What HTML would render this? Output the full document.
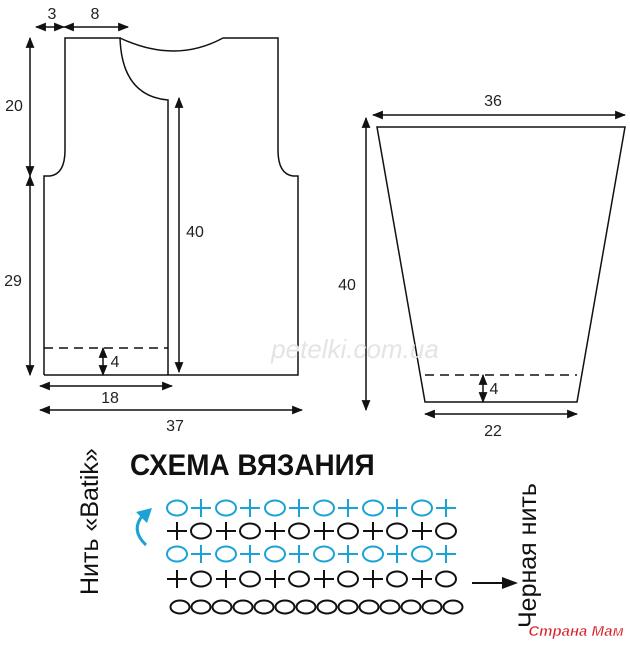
<!DOCTYPE html>
<html><head><meta charset="utf-8"><style>
html,body{margin:0;padding:0;background:#fff;}
svg{display:block;}
text{font-family:"Liberation Sans",sans-serif;}
</style></head><body>
<svg width="630" height="645" viewBox="0 0 630 645" xmlns="http://www.w3.org/2000/svg">
<defs>
<marker id="ah" viewBox="0 0 10 10" refX="9" refY="5" markerWidth="11" markerHeight="11" markerUnits="userSpaceOnUse" orient="auto-start-reverse"><path d="M0,1 L10,5 L0,9 z" fill="#111"/></marker>
</defs>
<g fill="none" stroke="#111" stroke-width="1.5">
<path d="M44,375 L44,176 L50,176 Q65,174 65,150 L65,38 L120,38 Q122,96 168,100 L168,375"/>
<path d="M120,38 Q175,64 223,38 L278,38 L278,150 Q278,174 293,176 L298,176 L298,375 L44,375"/>
<line x1="44" y1="348" x2="168" y2="348" stroke-dasharray="9,6"/>
<path d="M377,127 L625,127 L577,402 L425,402 Z"/>
<line x1="425" y1="375" x2="577" y2="375" stroke-dasharray="9,6"/>
</g>
<g stroke="#111" stroke-width="1.5" marker-start="url(#ah)" marker-end="url(#ah)">
<line x1="36" y1="27" x2="64" y2="27"/>
<line x1="64" y1="27" x2="128" y2="27"/>
<line x1="30" y1="38" x2="30" y2="176"/>
<line x1="30" y1="176" x2="30" y2="375"/>
<line x1="103" y1="348" x2="103" y2="375"/>
<line x1="40" y1="386" x2="172" y2="386"/>
<line x1="40" y1="410" x2="302" y2="410"/>
<line x1="373" y1="115" x2="625" y2="115"/>
<line x1="366" y1="118" x2="366" y2="410"/>
<line x1="483" y1="375" x2="483" y2="402"/>
<line x1="425" y1="414" x2="577" y2="414"/>
<line x1="179" y1="372" x2="179" y2="98"/>
</g>
<g font-size="16" fill="#222" text-anchor="middle">
<text x="52" y="19">3</text><text x="95" y="19">8</text>
<text x="14" y="111">20</text><text x="13" y="286">29</text>
<text x="195" y="237">40</text><text x="115" y="367">4</text>
<text x="110" y="403">18</text><text x="175" y="431">37</text>
<text x="493" y="106">36</text><text x="347" y="290">40</text>
<text x="494" y="394">4</text><text x="493" y="436">22</text>
</g>
<text x="355" y="358" font-size="26" font-style="italic" fill="#e4e4e4" text-anchor="middle" font-family="Liberation Serif,serif">petelki.com.ua</text>
<text x="130" y="475" font-size="30" font-weight="bold" fill="#111" transform="translate(130,0) scale(0.93,1) translate(-130,0)">СХЕМА ВЯЗАНИЯ</text>
<text transform="translate(98,595) rotate(-90)" font-size="25" fill="#111">Нить «Batik»</text>
<text transform="translate(536,628) rotate(-90)" font-size="25" fill="#111">Черная нить</text>
<path d="M146,545 Q130,530 143,515" fill="none" stroke="#1ba3d6" stroke-width="3"/>
<path d="M152,508 L136,512 L147,523 z" fill="#1ba3d6"/>
<line x1="472" y1="583" x2="505" y2="583" stroke="#111" stroke-width="2"/>
<path d="M502,577 L518,583 L502,589 z" fill="#111"/>
<g fill="none" stroke-width="2">
<g stroke="#1ba3d6">
<ellipse cx="177" cy="508" rx="10" ry="7.5"/><ellipse cx="226" cy="508" rx="10" ry="7.5"/><ellipse cx="275" cy="508" rx="10" ry="7.5"/><ellipse cx="324" cy="508" rx="10" ry="7.5"/><ellipse cx="373" cy="508" rx="10" ry="7.5"/><ellipse cx="422" cy="508" rx="10" ry="7.5"/>
<path d="M191,508h20M201,499v18M240,508h20M250,499v18M289,508h20M299,499v18M338,508h20M348,499v18M387,508h20M397,499v18M436,508h20M446,499v18"/>
<ellipse cx="177" cy="554" rx="10" ry="7.5"/><ellipse cx="226" cy="554" rx="10" ry="7.5"/><ellipse cx="275" cy="554" rx="10" ry="7.5"/><ellipse cx="324" cy="554" rx="10" ry="7.5"/><ellipse cx="373" cy="554" rx="10" ry="7.5"/><ellipse cx="422" cy="554" rx="10" ry="7.5"/>
<path d="M191,554h20M201,545v18M240,554h20M250,545v18M289,554h20M299,545v18M338,554h20M348,545v18M387,554h20M397,545v18M436,554h20M446,545v18"/>
</g>
<g stroke="#111">
<path d="M167,531h20M177,522v18M216,531h20M226,522v18M265,531h20M275,522v18M314,531h20M324,522v18M363,531h20M373,522v18M412,531h20M422,522v18"/>
<ellipse cx="201" cy="531" rx="10" ry="7.5"/><ellipse cx="250" cy="531" rx="10" ry="7.5"/><ellipse cx="299" cy="531" rx="10" ry="7.5"/><ellipse cx="348" cy="531" rx="10" ry="7.5"/><ellipse cx="397" cy="531" rx="10" ry="7.5"/><ellipse cx="446" cy="531" rx="10" ry="7.5"/>
<path d="M167,579h20M177,570v18M216,579h20M226,570v18M265,579h20M275,570v18M314,579h20M324,570v18M363,579h20M373,570v18M412,579h20M422,570v18"/>
<ellipse cx="201" cy="579" rx="10" ry="7.5"/><ellipse cx="250" cy="579" rx="10" ry="7.5"/><ellipse cx="299" cy="579" rx="10" ry="7.5"/><ellipse cx="348" cy="579" rx="10" ry="7.5"/><ellipse cx="397" cy="579" rx="10" ry="7.5"/><ellipse cx="446" cy="579" rx="10" ry="7.5"/>
<ellipse cx="180" cy="607" rx="9.5" ry="6.5"/><ellipse cx="201" cy="607" rx="9.5" ry="6.5"/><ellipse cx="222" cy="607" rx="9.5" ry="6.5"/><ellipse cx="243" cy="607" rx="9.5" ry="6.5"/><ellipse cx="264" cy="607" rx="9.5" ry="6.5"/><ellipse cx="285" cy="607" rx="9.5" ry="6.5"/><ellipse cx="306" cy="607" rx="9.5" ry="6.5"/><ellipse cx="327" cy="607" rx="9.5" ry="6.5"/><ellipse cx="348" cy="607" rx="9.5" ry="6.5"/><ellipse cx="369" cy="607" rx="9.5" ry="6.5"/><ellipse cx="390" cy="607" rx="9.5" ry="6.5"/><ellipse cx="411" cy="607" rx="9.5" ry="6.5"/><ellipse cx="432" cy="607" rx="9.5" ry="6.5"/><ellipse cx="453" cy="607" rx="9.5" ry="6.5"/>
</g>
</g>
<text x="576" y="636" font-size="15" font-style="italic" font-weight="bold" fill="#d8202a" text-anchor="middle" font-family="Liberation Serif,serif" stroke="#fff" stroke-width="0.5">Страна Мам</text>
</svg>
</body></html>
